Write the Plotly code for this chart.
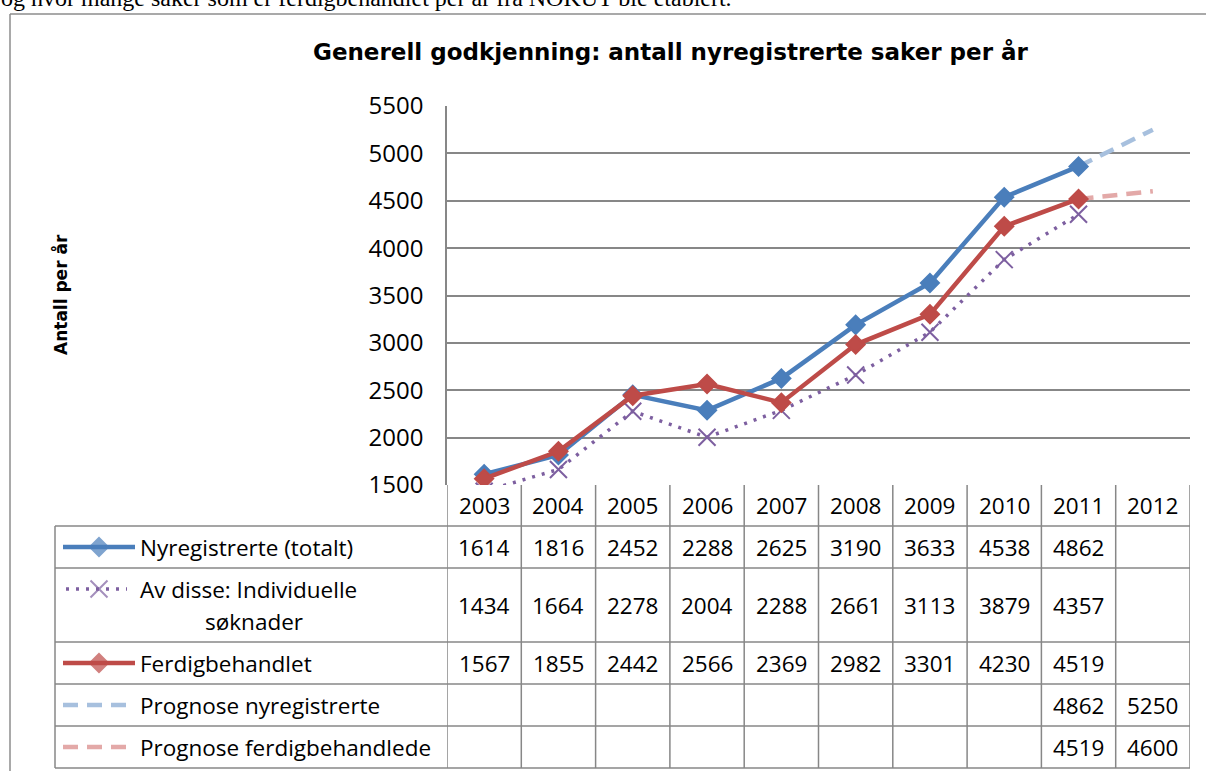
import plotly.graph_objects as go

# ---------------- data ----------------
years = [2003, 2004, 2005, 2006, 2007, 2008, 2009, 2010, 2011, 2012]
nyregistrerte = [1614, 1816, 2452, 2288, 2625, 3190, 3633, 4538, 4862, None]
individuelle = [1434, 1664, 2278, 2004, 2288, 2661, 3113, 3879, 4357, None]
ferdigbehandlet = [1567, 1855, 2442, 2566, 2369, 2982, 3301, 4230, 4519, None]
prognose_nyreg = [None, None, None, None, None, None, None, None, 4862, 5250]
prognose_ferdig = [None, None, None, None, None, None, None, None, 4519, 4600]
y_ticks = [1500, 2000, 2500, 3000, 3500, 4000, 4500, 5000, 5500]

series_names = ["Nyregistrerte (totalt)", "Av disse: Individuelle søknader", "Ferdigbehandlet",
                "Prognose nyregistrerte", "Prognose ferdigbehandlede"]
title_text = "Generell godkjenning: antall nyregistrerte saker per år"
y_title = "Antall per år"
top_text = "og hvor mange saker som er ferdigbehandlet per år fra NOKUT ble etablert."

# ---------------- layout helpers ----------------
W, H = 1206, 771
FONT = "Open Sans"
BOLD_FONT = "DejaVu Sans"
GRID = "#878787"


def px(x):
    return x / W


def py(y):
    return 1 - y / H


AX_L, AX_R, AX_T, AX_B = 447, 1190, 106, 485
TAB_L = 55
row_edges = [485, 526, 568, 642, 684, 726, 768]

styles = [
    dict(color="#4A7EBB", width=4.5, dash="solid", symbol="diamond", msize=14),
    dict(color="#7D5FA0", width=3.5, dash="3px,7px", symbol="x-thin-open", msize=17),
    dict(color="#BE4B48", width=4.5, dash="solid", symbol="diamond", msize=14),
    dict(color="#A7C0DE", width=4.5, dash="15px,9px", symbol=None, msize=0),
    dict(color="#E3A9A8", width=4.5, dash="15px,9px", symbol=None, msize=0),
]
all_series = [nyregistrerte, individuelle, ferdigbehandlet, prognose_nyreg, prognose_ferdig]

fig = go.Figure()

# forecast lines first so markers sit on top
for idx in [3, 4, 0, 1, 2]:
    s = styles[idx]
    vals = all_series[idx]
    mode = "lines+markers" if s["symbol"] else "lines"
    marker = dict(symbol=s["symbol"], size=s["msize"], color=s["color"],
                  line=dict(color=s["color"], width=2)) if s["symbol"] else None
    fig.add_trace(go.Scatter(
        x=years, y=vals, mode=mode, name=series_names[idx],
        line=dict(color=s["color"], width=s["width"], dash=s["dash"]),
        marker=marker, connectgaps=False, showlegend=False,
        xaxis="x", yaxis="y", hoverinfo="skip"))

# legend keys inside table (pixel overlay axes)
row_centers = [(row_edges[i] + row_edges[i + 1]) / 2 for i in range(len(row_edges) - 1)]
key_rows = row_centers[1:]
key_rows[1] = 589
for idx, s in enumerate(styles):
    yc = key_rows[idx]
    if s["symbol"]:
        xs = [63, 99, 135] if idx != 1 else [66, 99, 127]
        sizes = [0, s["msize"], 0]
        fig.add_trace(go.Scatter(
            x=xs, y=[yc] * 3, mode="lines+markers",
            line=dict(color=s["color"], width=s["width"], dash=s["dash"]),
            marker=dict(symbol=s["symbol"], size=sizes, color=s["color"],
                        line=dict(color=s["color"], width=2)),
            xaxis="x2", yaxis="y2", showlegend=False, hoverinfo="skip", cliponaxis=False))
    else:
        fig.add_trace(go.Scatter(
            x=[63, 128], y=[yc] * 2, mode="lines",
            line=dict(color=s["color"], width=s["width"], dash=s["dash"]),
            xaxis="x2", yaxis="y2", showlegend=False, hoverinfo="skip", cliponaxis=False))

# body text above the chart frame, cut by the top edge (as in the reference page crop)
fig.add_trace(go.Scatter(
    x=[1], y=[0], mode="text", text=[top_text], textposition="middle right",
    textfont=dict(family="Liberation Serif", size=24, color="black"),
    xaxis="x2", yaxis="y2", showlegend=False, hoverinfo="skip", cliponaxis=True))

shapes = []
# outer frame (top and left edges visible)
shapes.append(dict(type="line", xref="paper", yref="paper", x0=px(10), x1=1, y0=py(14), y1=py(14),
                   line=dict(color="#8C8C8C", width=1.5)))
shapes.append(dict(type="line", xref="paper", yref="paper", x0=px(10), x1=px(10), y0=py(14), y1=0,
                   line=dict(color="#8C8C8C", width=1.5)))
# table horizontal lines
for i, e in enumerate(row_edges):
    if i == 0:
        continue
    shapes.append(dict(type="line", xref="paper", yref="paper", x0=px(TAB_L), x1=px(AX_R), y0=py(e), y1=py(e),
                       line=dict(color=GRID, width=1.5)))
# left border of table (legend column)
shapes.append(dict(type="line", xref="paper", yref="paper", x0=px(TAB_L), x1=px(TAB_L), y0=py(row_edges[1]),
                   y1=py(row_edges[-1]), line=dict(color=GRID, width=1.5)))
# vertical lines between year columns
for k in range(len(years) + 1):
    xv = years[0] - 0.5 + k
    shapes.append(dict(type="line", xref="x", yref="paper", x0=xv, x1=xv, y0=py(row_edges[0]),
                       y1=py(row_edges[-1]), line=dict(color=GRID, width=1.5)))

annotations = []
TF = dict(family=FONT, size=22.5, color="black")
# header years
for yr in years:
    annotations.append(dict(x=yr, xref="x", y=py(row_centers[0]), yref="paper", text=str(yr),
                            showarrow=False, font=TF, xanchor="center", yanchor="middle"))
# values
val_rows = row_centers[1:]
for r, vals in enumerate(all_series):
    for yr, v in zip(years, vals):
        if v is None:
            continue
        annotations.append(dict(x=yr, xref="x", y=py(val_rows[r]), yref="paper", text=str(v),
                                showarrow=False, font=TF, xanchor="center", yanchor="middle"))
# row labels
LBL_X = 138
for r, name in enumerate(series_names):
    if r == 1:
        first, second = "Av disse: Individuelle", "søknader"
        annotations.append(dict(x=px(LBL_X), xref="paper", y=py(589), yref="paper", text=first,
                                showarrow=False, font=TF, xanchor="left", yanchor="middle"))
        annotations.append(dict(x=px(254), xref="paper", y=py(621), yref="paper", text=second,
                                showarrow=False, font=TF, xanchor="center", yanchor="middle"))
    else:
        annotations.append(dict(x=px(LBL_X), xref="paper", y=py(val_rows[r]), yref="paper", text=name,
                                showarrow=False, font=TF, xanchor="left", yanchor="middle"))
# title
annotations.append(dict(x=px(671), xref="paper", y=py(52), yref="paper", text="<b>%s</b>" % title_text,
                        showarrow=False, font=dict(family=BOLD_FONT, size=23, color="black"),
                        xanchor="center", yanchor="middle"))
# y-axis title
annotations.append(dict(x=px(60), xref="paper", y=py(295), yref="paper", text="<b>%s</b>" % y_title,
                        showarrow=False, textangle=-90, font=dict(family=BOLD_FONT, size=17, color="black"),
                        xanchor="center", yanchor="middle"))

fig.update_layout(
    width=W, height=H,
    margin=dict(l=0, r=0, t=0, b=0, autoexpand=False),
    paper_bgcolor="white", plot_bgcolor="rgba(0,0,0,0)",
    showlegend=False,
    xaxis=dict(domain=[px(AX_L), px(AX_R)], range=[years[0] - 0.5, years[-1] + 0.5],
               showgrid=False, zeroline=False, showticklabels=False, showline=False, fixedrange=True),
    yaxis=dict(domain=[py(AX_B), py(AX_T)], range=[y_ticks[0], y_ticks[-1]], tickvals=y_ticks,
               showgrid=True, gridcolor=GRID, gridwidth=1.5, zeroline=False,
               showline=True, linecolor=GRID, linewidth=1.5, mirror=False,
               ticks="outside", ticklen=0, ticklabelstandoff=17,
               tickfont=dict(family=FONT, size=24, color="black"), fixedrange=True),
    xaxis2=dict(domain=[0, 1], range=[0, W], visible=False, anchor="y2", fixedrange=True),
    yaxis2=dict(domain=[0, 1], range=[H, 0], visible=False, anchor="x2", fixedrange=True),
    shapes=shapes,
    annotations=annotations,
)

fig.write_html("out.html", config={"displayModeBar": False},
               post_script="document.body.style.margin='0px';")
